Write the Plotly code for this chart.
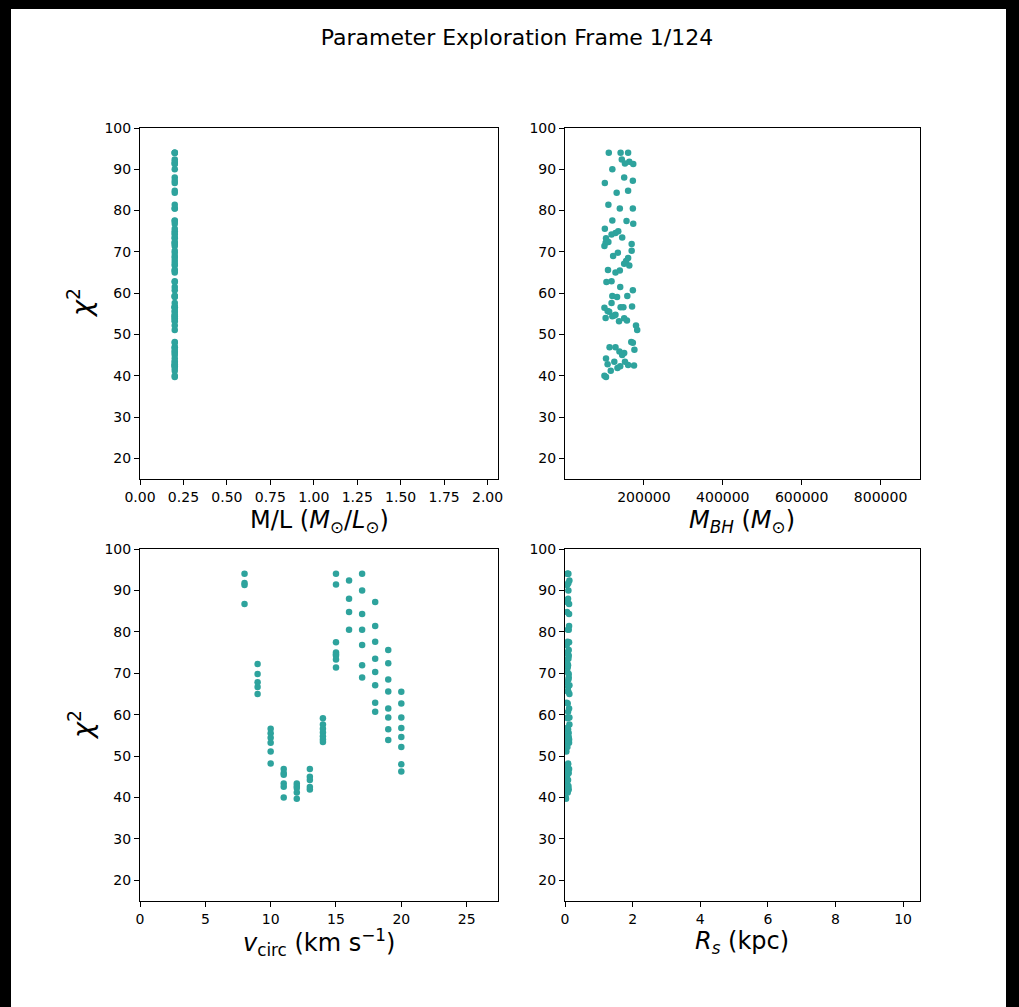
import plotly.graph_objects as go
from plotly.subplots import make_subplots

# ---- data (one entry per model) ----
vcirc = [8, 8, 8, 8,
         9, 9, 9, 9, 9,
         10, 10, 10, 10, 10, 10,
         11, 11, 11, 11, 11, 11,
         12, 12, 12, 12, 12,
         13, 13, 13, 13, 13,
         14, 14, 14, 14, 14, 14, 14,
         15, 15, 15, 15, 15, 15, 15, 15,
         16, 16, 16, 16,
         17, 17, 17, 17, 17, 17, 17,
         18, 18, 18, 18, 18, 18, 18, 18,
         19, 19, 19, 19, 19, 19, 19, 19,
         20, 20, 20, 20, 20, 20, 20, 20]
chi2 = [94.0, 91.8, 91.3, 86.7,
        72.2, 69.8, 67.8, 66.7, 65.0,
        56.6, 55.5, 54.4, 53.2, 51.1, 48.2,
        46.9, 45.9, 45.5, 43.4, 42.6, 40.0,
        43.4, 42.8, 42.3, 41.2, 39.7,
        46.9, 45.0, 44.2, 42.5, 41.9,
        59.1, 57.6, 56.6, 55.7, 54.8, 54.0, 53.4,
        94.0, 91.4, 77.5, 75.0, 74.6, 74.2, 73.3, 71.4,
        92.4, 88.0, 84.8, 80.5,
        94.0, 90.0, 84.3, 80.5, 76.8, 71.9, 69.0,
        87.2, 81.4, 77.6, 73.5, 70.3, 67.1, 62.9, 60.7,
        75.6, 72.4, 68.5, 65.6, 61.5, 59.3, 56.5, 53.9,
        65.5, 62.7, 59.3, 56.8, 54.6, 52.2, 48.0, 46.3]
mbh = [111000, 163000, 173000, 101000,
       103000, 134000, 155000, 163000, 128000,
       141000, 112000, 120000, 137000, 183000, 168000,
       113000, 138000, 150000, 125000, 160000, 100000,
       152000, 108000, 140000, 116000, 104000,
       128000, 145000, 104000, 175000, 133000,
       132000, 118000, 148000, 108000, 128000, 103000, 157000,
       141000, 152000, 156000, 135000, 128000, 118000, 104000, 100000,
       144000, 150000, 160000, 139000,
       160000, 120000, 131000, 172000, 173000, 169000, 122000,
       172000, 110000, 120000, 145000, 169000, 150000, 118000, 172000,
       101000, 110000, 160000, 109000, 140000, 158000, 100000, 150000,
       139000, 105000, 120000, 170000, 125000, 180000, 172000, 176000]
ml = [0.2] * len(chi2)
rs = [0.08, 0.10, 0.06, 0.12,
      0.07, 0.11, 0.05, 0.09, 0.13,
      0.06, 0.10, 0.08, 0.12, 0.04, 0.09,
      0.05, 0.11, 0.07, 0.03, 0.09, 0.02,
      0.06, 0.10, 0.04, 0.08, 0.03,
      0.12, 0.05, 0.09, 0.07, 0.11,
      0.08, 0.13, 0.06, 0.10, 0.07, 0.12, 0.05,
      0.10, 0.07, 0.12, 0.06, 0.09, 0.11, 0.05, 0.08,
      0.13, 0.09, 0.06, 0.11,
      0.07, 0.10, 0.12, 0.08, 0.05, 0.09, 0.11,
      0.06, 0.12, 0.08, 0.10, 0.07, 0.13, 0.05, 0.09,
      0.11, 0.06, 0.10, 0.08, 0.12, 0.07, 0.09, 0.05,
      0.10, 0.08, 0.13, 0.06, 0.11, 0.07, 0.09, 0.04]

y_ticks = [20, 30, 40, 50, 60, 70, 80, 90, 100]
mbh_ticks = [200000, 400000, 600000, 800000]

W, H = 1019, 1007
FONT = "DejaVu Sans"
COLOR = "#2ea39d"

fig = make_subplots(rows=2, cols=2)

panels = [(ml, 1, 1), (mbh, 1, 2), (vcirc, 2, 1), (rs, 2, 2)]
for xs, r, c in panels:
    fig.add_trace(go.Scatter(x=xs, y=chi2, mode="markers",
                             marker=dict(color=COLOR, size=6.5, line=dict(width=0)),
                             showlegend=False, cliponaxis=True), row=r, col=c)

def px_x(p):
    return p / W

def px_y(p):
    return 1 - p / H

dom_x = {1: [px_x(140), px_x(498)], 2: [px_x(565), px_x(920)]}
dom_y = {1: [px_y(479), px_y(128)], 2: [px_y(901), px_y(549)]}

axis_common = dict(showline=True, linecolor="black", linewidth=1, mirror=True,
                   ticks="outside", ticklen=5, tickwidth=1, tickcolor="black",
                   showgrid=False, zeroline=False,
                   tickfont=dict(family=FONT, size=14, color="black"))

xcfg = {
    (1, 1): dict(range=[0, 2.06], tickvals=[0, 0.25, 0.5, 0.75, 1.0, 1.25, 1.5, 1.75, 2.0], tickformat=".2f"),
    (1, 2): dict(range=[0, 900000], tickvals=mbh_ticks, tickformat="d"),
    (2, 1): dict(range=[0, 27.4], tickvals=[0, 5, 10, 15, 20, 25]),
    (2, 2): dict(range=[0, 10.5], tickvals=[0, 2, 4, 6, 8, 10]),
}
for (r, c), cfg in xcfg.items():
    fig.update_xaxes(domain=dom_x[c], **cfg, **axis_common, row=r, col=c)
    fig.update_yaxes(domain=dom_y[r], range=[15, 100], tickvals=y_ticks, **axis_common, row=r, col=c)

# axis labels
xlabels = [
    ("M/L (<i>M</i><sub>⊙</sub>/<i>L</i><sub>⊙</sub>)", 319, 521),
    ("<i>M<sub>BH</sub></i> (<i>M</i><sub>⊙</sub>)", 742, 521),
    ("<i>v</i><sub>circ</sub> (km s<sup>−1</sup>)", 319, 942),
    ("<i>R<sub>s</sub></i> (kpc)", 742, 942),
]
annotations = []
for text, x, y in xlabels:
    annotations.append(dict(text=text, x=px_x(x), y=px_y(y), xref="paper", yref="paper",
                            xanchor="center", yanchor="middle", showarrow=False,
                            font=dict(family=FONT, size=24, color="black")))
for y in (303, 725):
    annotations.append(dict(text="<i>χ</i><sup>2</sup>", x=px_x(80), y=px_y(y), xref="paper", yref="paper",
                            xanchor="center", yanchor="middle", showarrow=False, textangle=-90,
                            font=dict(family=FONT, size=27, color="black")))

fig.update_layout(
    width=W, height=H,
    margin=dict(l=0, r=0, t=0, b=0, pad=0, autoexpand=False),
    paper_bgcolor="black",
    plot_bgcolor="white",
    title=dict(text="Parameter Exploration Frame 1/124", x=517 / W, y=1 - 37 / H,
               xref="container", yref="container", xanchor="center", yanchor="middle",
               font=dict(family=FONT, size=22, color="black")),
    annotations=annotations,
    shapes=[dict(type="rect", xref="paper", yref="paper",
                 x0=px_x(11), x1=px_x(1006), y0=0, y1=px_y(9),
                 fillcolor="white", line=dict(width=0), layer="below")],
)

fig.write_html("out.html",
               config={"displayModeBar": False},
               post_script="document.body.style.margin='0px';"
                           "document.body.style.background='black';"
                           "document.body.style.overflow='hidden';")
